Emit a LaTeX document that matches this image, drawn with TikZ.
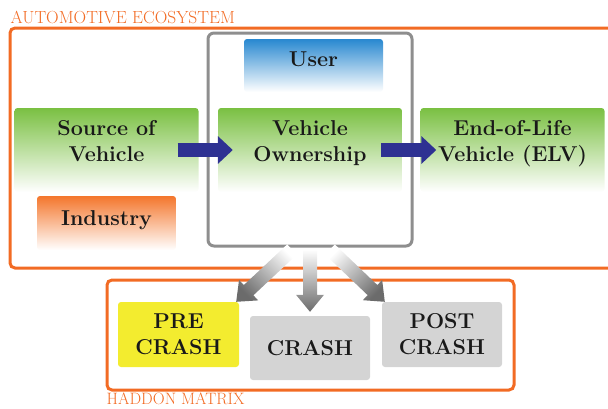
\documentclass[tikz,border=0pt]{standalone}
\usepackage{tikz}
\usetikzlibrary{positioning,calc,arrows.meta}
\definecolor{ecoorange}{RGB}{242,107,36}
\definecolor{framegray}{RGB}{142,142,142}
\definecolor{usrblue}{RGB}{40,136,208}
\definecolor{srcgreen}{RGB}{122,192,66}
\definecolor{indorange}{RGB}{244,118,44}
\definecolor{flowblue}{RGB}{46,49,146}
\definecolor{preyellow}{RGB}{243,236,47}
\definecolor{crashgray}{RGB}{212,212,212}
\newcommand{\boxfont}{\fontsize{21.5}{26}\selectfont\bfseries}
\newcommand{\labfont}{\fontsize{17.5}{20}\selectfont}
% shaded arrow from #1 to #2, shading turned by #3
\newcommand{\fadearrow}[3]{%
  \coordinate (h) at ($#2!17pt!#1$);
  \shade [top color=white, bottom color=black!58, shading angle=#3]
    ($#1!7pt!90:#2$) -- ($(h)!7pt!-90:#1$) -- ($(h)!14pt!-90:#1$) -- #2
    -- ($(h)!14pt!90:#1$) -- ($(h)!7pt!90:#1$) -- ($#1!7pt!-90:#2$) -- cycle;
}
\tikzset{
  ecoframe/.style={draw=ecoorange, line width=3pt, rounded corners=5pt, inner sep=0pt},
  framelabel/.style={text=ecoorange, font=\labfont, inner sep=0pt},
  box/.style={rounded corners=3pt, align=center, font=\boxfont, inner sep=0pt, text=black!90},
  greenbox/.style={box, top color=srcgreen, bottom color=white, minimum width=184pt, minimum height=84pt, text depth=18pt}
  ,flowarrow/.style={draw=flowblue, line width=14pt, -{Triangle[width=27pt,length=15pt]}}
}
\begin{document}
\begin{tikzpicture}[x=1pt, y=-1pt]
\useasboundingbox (0,0) rectangle (608,408);

\node (ECO) at (317.5,148) [ecoframe, minimum width=615pt, minimum height=240pt] {};
\node at ([xshift=2pt,yshift=3pt]ECO.north west) [framelabel, anchor=base west] {AUTOMOTIVE ECOSYSTEM};

\node (HM) at (310.5,335) [ecoframe, minimum width=407pt, minimum height=110pt] {};
\node at ([xshift=1pt,yshift=-1.5pt]HM.south west) [framelabel, font=\fontsize{16.5}{19}\selectfont, anchor=north west] {HADDON MATRIX};

\node (PR) at (178.5,334.5) [box, fill=preyellow, minimum width=121pt, minimum height=65pt] {PRE\\CRASH};
\node (CR) at (310,348) [box, fill=crashgray, minimum width=120pt, minimum height=64pt] {CRASH};
\node (PO) at (442,334.5) [box, fill=crashgray, minimum width=120pt, minimum height=65pt] {POST\\CRASH};

\node (OW) at (310,139.5) [draw=framegray, line width=3pt, rounded corners=6pt, minimum width=204pt, minimum height=213pt] {};

\fadearrow{([xshift=-18pt,yshift=-2pt]OW.south)}{([xshift=-3pt]PR.north east)}{-45}
\fadearrow{([yshift=-2pt]OW.south)}{([yshift=4pt]CR.north)}{0}
\fadearrow{([xshift=20pt,yshift=-2pt]OW.south)}{([xshift=3pt]PO.north west)}{45}

\node (US) at (313.5,65.5) [box, top color=usrblue, bottom color=white, minimum width=139pt, minimum height=53pt, text depth=12pt] {User};
\node (SV) at (106.5,150) [greenbox] {Source of\\Vehicle};
\node (VO) at (310,150) [greenbox] {Vehicle\\Ownership};
\node (EL) at (512.5,150) [greenbox] {End-of-Life\\Vehicle (ELV)};
\node (IN) at (106.5,223) [box, top color=indorange, bottom color=white, minimum width=139pt, minimum height=54pt, text depth=10pt] {Industry};

\draw [flowarrow, shorten <=-21pt, shorten >=-15pt] (SV) -- (VO);
\draw [flowarrow, shorten <=-21pt, shorten >=-16pt] (VO) -- (EL);
\end{tikzpicture}
\end{document}
